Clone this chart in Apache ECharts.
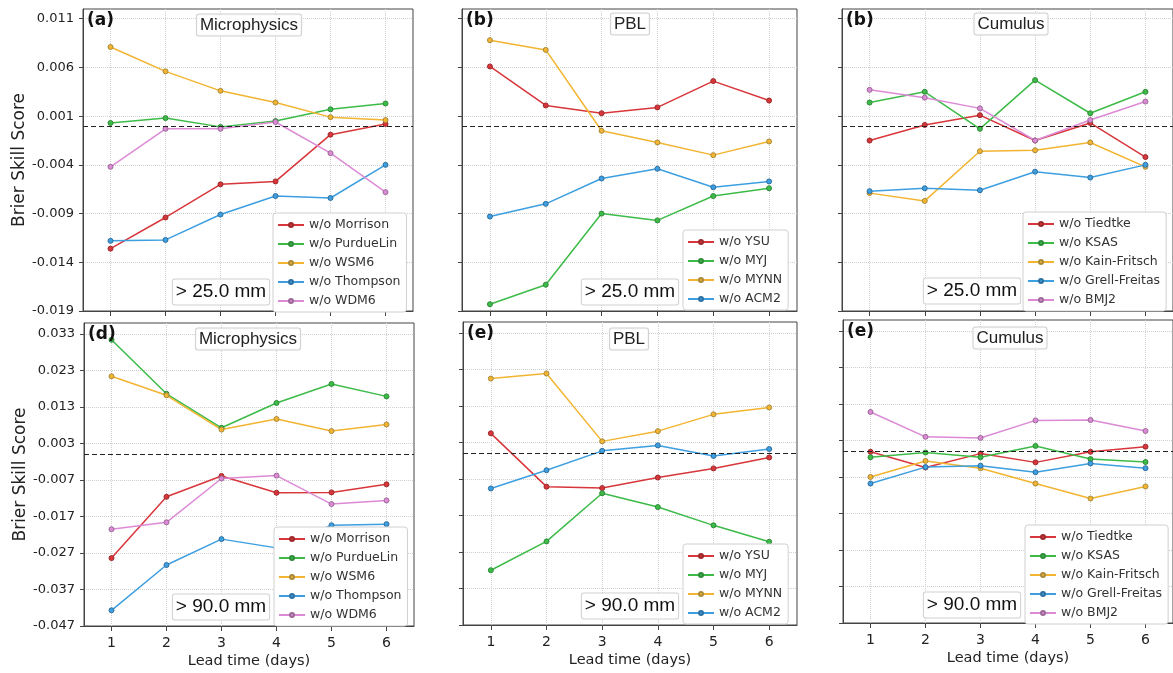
<!DOCTYPE html>
<html>
<head>
<meta charset="utf-8">
<script src="https://cdn.jsdelivr.net/npm/echarts@6/dist/echarts.min.js"></script>
<style>
  html, body { margin: 0; padding: 0; background: #fff; }
  #chart { width: 1173px; height: 673px; }
</style>
</head>
<body>
<div id="chart"></div>
<script>
// lead time (days) and tick labels
const days = [1, 2, 3, 4, 5, 6];
const ticks25 = [-0.019, -0.014, -0.009, -0.004, 0.001, 0.006, 0.011];
const ticks90 = [-0.047, -0.037, -0.027, -0.017, -0.007, 0.003, 0.013, 0.023, 0.033];

const mpNames = ['w/o Morrison', 'w/o PurdueLin', 'w/o WSM6', 'w/o Thompson', 'w/o WDM6'];
const pblNames = ['w/o YSU', 'w/o MYJ', 'w/o MYNN', 'w/o ACM2'];
const cuNames = ['w/o Tiedtke', 'w/o KSAS', 'w/o Kain-Fritsch', 'w/o Grell-Freitas', 'w/o BMJ2'];

// > 25.0 mm
const mp25Morrison = [-0.0126, -0.0094, -0.0060, -0.0057, -0.0009, 0.0002];
const mp25PurdueLin = [0.0003, 0.0008, -0.0001, 0.0005, 0.0017, 0.0023];
const mp25WSM6 = [0.0081, 0.0056, 0.0036, 0.0024, 0.0009, 0.0006];
const mp25Thompson = [-0.0118, -0.0117, -0.0091, -0.0072, -0.0074, -0.0040];
const mp25WDM6 = [-0.0042, -0.0003, -0.0003, 0.0004, -0.0028, -0.0068];

const pbl25YSU = [0.0061, 0.0021, 0.0013, 0.0019, 0.0046, 0.0026];
const pbl25MYJ = [-0.0183, -0.0163, -0.0090, -0.0097, -0.0072, -0.0064];
const pbl25MYNN = [0.0088, 0.0078, -0.0005, -0.0017, -0.0030, -0.0016];
const pbl25ACM2 = [-0.0093, -0.0080, -0.0054, -0.0044, -0.0063, -0.0057];

const cu25Tiedtke = [-0.0015, 0.0001, 0.0011, -0.0015, 0.0003, -0.0032];
const cu25KSAS = [0.0024, 0.0035, -0.0003, 0.0047, 0.0013, 0.0035];
const cu25KainFritsch = [-0.0069, -0.0077, -0.0026, -0.0025, -0.0017, -0.0042];
const cu25GrellFreitas = [-0.0067, -0.0064, -0.0066, -0.0047, -0.0053, -0.0040];
const cu25BMJ2 = [0.0037, 0.0029, 0.0018, -0.0015, 0.0006, 0.0025];

// > 90.0 mm
const mp90Morrison = [-0.0284, -0.0116, -0.0059, -0.0105, -0.0104, -0.0082];
const mp90PurdueLin = [0.0314, 0.0166, 0.0073, 0.0141, 0.0193, 0.0159];
const mp90WSM6 = [0.0214, 0.0162, 0.0068, 0.0097, 0.0064, 0.0082];
const mp90Thompson = [-0.0427, -0.0303, -0.0232, -0.0256, -0.0194, -0.0191];
const mp90WDM6 = [-0.0205, -0.0186, -0.0066, -0.0058, -0.0136, -0.0126];

const pbl90YSU = [0.0055, -0.0091, -0.0095, -0.0066, -0.0041, -0.0011];
const pbl90MYJ = [-0.0320, -0.0241, -0.0109, -0.0147, -0.0197, -0.0242];
const pbl90MYNN = [0.0205, 0.0219, 0.0033, 0.0061, 0.0107, 0.0126];
const pbl90ACM2 = [-0.0096, -0.0046, 0.0007, 0.0022, -0.0007, 0.0012];

const cu90Tiedtke = [-0.0001, -0.0044, -0.0006, -0.0030, -0.0001, 0.0013];
const cu90KSAS = [-0.0016, -0.0003, -0.0016, 0.0015, -0.0021, -0.0029];
const cu90KainFritsch = [-0.0070, -0.0026, -0.0046, -0.0088, -0.0129, -0.0096];
const cu90GrellFreitas = [-0.0088, -0.0043, -0.0039, -0.0057, -0.0033, -0.0046];
const cu90BMJ2 = [0.0108, 0.0040, 0.0037, 0.0085, 0.0086, 0.0056];

const COLORS = ['#d8363a', '#3dbb48', '#f2b431', '#3d9fe0', '#dc8ad6'];
const EDGES = ['#9b2a2c', '#2f8a39', '#a98a3c', '#2f6fa0', '#9b6a98'];

const panels = [
  { grid: { left: 83, top: 9, width: 330, height: 302 }, names: mpNames,
    values: [mp25Morrison, mp25PurdueLin, mp25WSM6, mp25Thompson, mp25WDM6],
    ticks: ticks25, min: -0.019, max: 0.012, tag: '(a)', title: 'Microphysics', thr: '> 25.0 mm',
    titleXY: [249, 25], thrXY: [221, 292], legend: { left: 273, top: 213 }, bottom: false, first: true },
  { grid: { left: 462, top: 9, width: 335, height: 302 }, names: pblNames,
    values: [pbl25YSU, pbl25MYJ, pbl25MYNN, pbl25ACM2],
    ticks: ticks25, min: -0.019, max: 0.012, tag: '(b)', title: 'PBL', thr: '> 25.0 mm',
    titleXY: [630, 24], thrXY: [630, 292], legend: { left: 683, top: 230 }, bottom: false, first: false },
  { grid: { left: 842, top: 9, width: 333, height: 302 }, names: cuNames,
    values: [cu25Tiedtke, cu25KSAS, cu25KainFritsch, cu25GrellFreitas, cu25BMJ2],
    ticks: ticks25, min: -0.019, max: 0.012, tag: '(b)', title: 'Cumulus', thr: '> 25.0 mm',
    titleXY: [1011, 24], thrXY: [972, 291], legend: { left: 1023, top: 212 }, bottom: false, first: false },
  { grid: { left: 84, top: 323, width: 330, height: 303 }, names: mpNames,
    values: [mp90Morrison, mp90PurdueLin, mp90WSM6, mp90Thompson, mp90WDM6],
    ticks: ticks90, min: -0.047, max: 0.036, tag: '(d)', title: 'Microphysics', thr: '> 90.0 mm',
    titleXY: [248, 339], thrXY: [221, 607], legend: { left: 274, top: 527 }, bottom: true, first: true },
  { grid: { left: 463, top: 322, width: 334, height: 303 }, names: pblNames,
    values: [pbl90YSU, pbl90MYJ, pbl90MYNN, pbl90ACM2],
    ticks: ticks90, min: -0.047, max: 0.036, tag: '(e)', title: 'PBL', thr: '> 90.0 mm',
    titleXY: [629, 339], thrXY: [630, 606], legend: { left: 683, top: 544 }, bottom: true, first: false },
  { grid: { left: 843, top: 320, width: 332, height: 303 }, names: cuNames,
    values: [cu90Tiedtke, cu90KSAS, cu90KainFritsch, cu90GrellFreitas, cu90BMJ2],
    ticks: ticks90, min: -0.047, max: 0.036, tag: '(e)', title: 'Cumulus', thr: '> 90.0 mm',
    titleXY: [1010, 338], thrXY: [972, 605], legend: { left: 1025, top: 525 }, bottom: true, first: false }
];

const axisColor = '#444';
const gridLine = { show: true, lineStyle: { color: '#cfcfcf', type: 'dotted', width: 1 } };

const grid = [], xAxis = [], yAxis = [], series = [], legend = [], graphic = [];

panels.forEach((p, i) => {
  grid.push(Object.assign({ show: true, borderColor: axisColor, borderWidth: 1, backgroundColor: '#fff' }, p.grid));

  xAxis.push({
    type: 'value', gridIndex: i, min: 0.5, max: 6.5,
    axisLine: { show: true, onZero: false, lineStyle: { color: axisColor } },
    axisTick: { show: true, customValues: days, length: 5, lineStyle: { color: axisColor } },
    axisLabel: { show: p.bottom, customValues: days, margin: 10, fontSize: 14, color: '#222', fontFamily: 'DejaVu Sans' },
    splitLine: gridLine,
    name: p.bottom ? 'Lead time (days)' : '', nameLocation: 'middle', nameGap: 28,
    nameTextStyle: { fontSize: 14.5, color: '#222', fontFamily: 'DejaVu Sans' }
  });

  yAxis.push({
    type: 'value', gridIndex: i, min: p.min, max: p.max,
    axisLine: { show: true, onZero: false, lineStyle: { color: axisColor } },
    axisTick: { show: true, customValues: p.ticks, length: 4, lineStyle: { color: axisColor } },
    axisLabel: { show: p.first, customValues: p.ticks, margin: 9, fontSize: 13, color: '#222',
      fontFamily: 'DejaVu Sans', formatter: v => v.toFixed(3) },
    splitLine: gridLine,
    name: p.first ? 'Brier Skill Score' : '', nameLocation: 'middle', nameGap: 55,
    nameTextStyle: { fontSize: 17, color: '#222', fontFamily: 'DejaVu Sans' }
  });

  p.names.forEach((name, k) => {
    const s = {
      type: 'line', name, xAxisIndex: i, yAxisIndex: i,
      data: days.map((d, j) => [d, p.values[k][j]]),
      symbol: 'circle', symbolSize: 5, showSymbol: true,
      lineStyle: { color: COLORS[k], width: 1.5 },
      itemStyle: { color: COLORS[k], borderColor: EDGES[k], borderWidth: 1 },
      emphasis: { disabled: true }, z: 3
    };
    if (k === 0) {
      s.markLine = {
        silent: true, symbol: 'none', label: { show: false }, animation: false,
        lineStyle: { type: [5, 3], color: '#222', width: 1.2 },
        data: [{ yAxis: 0 }]
      };
    }
    series.push(s);
  });

  legend.push({
    data: p.names, orient: 'vertical', left: p.legend.left, top: p.legend.top,
    itemWidth: 26, itemHeight: 5, itemGap: 5, selectedMode: false,
    backgroundColor: '#fff', borderColor: '#d0d0d0', borderWidth: 1, borderRadius: 3,
    padding: [5, 6, 4, 4],
    textStyle: { fontSize: 12.5, lineHeight: 14, color: '#333', fontFamily: 'DejaVu Sans' }
  });

  graphic.push({
    type: 'text', left: p.grid.left + 4, top: p.grid.top + 3, z: 10,
    style: { text: p.tag, font: 'bold 17px "DejaVu Sans"', fill: '#111' }
  });
  graphic.push({
    type: 'text', x: p.titleXY[0], y: p.titleXY[1], z: 10,
    style: { text: p.title, font: '17px "Liberation Sans"', fill: '#222', align: 'center', verticalAlign: 'middle',
      backgroundColor: 'rgba(255,255,255,0.85)', borderColor: '#d0d0d0', borderWidth: 1, borderRadius: 2, padding: [2, 3] }
  });
  graphic.push({
    type: 'text', x: p.thrXY[0], y: p.thrXY[1], z: 10,
    style: { text: p.thr, font: '19px "Liberation Sans"', fill: '#111', align: 'center', verticalAlign: 'middle',
      backgroundColor: '#fff', borderColor: '#d0d0d0', borderWidth: 1, borderRadius: 2, padding: [3, 3] }
  });
});

const chart = echarts.init(document.getElementById('chart'));
chart.setOption({
  animation: false,
  backgroundColor: '#fff',
  grid, xAxis, yAxis, series, legend, graphic
});
</script>
</body>
</html>
